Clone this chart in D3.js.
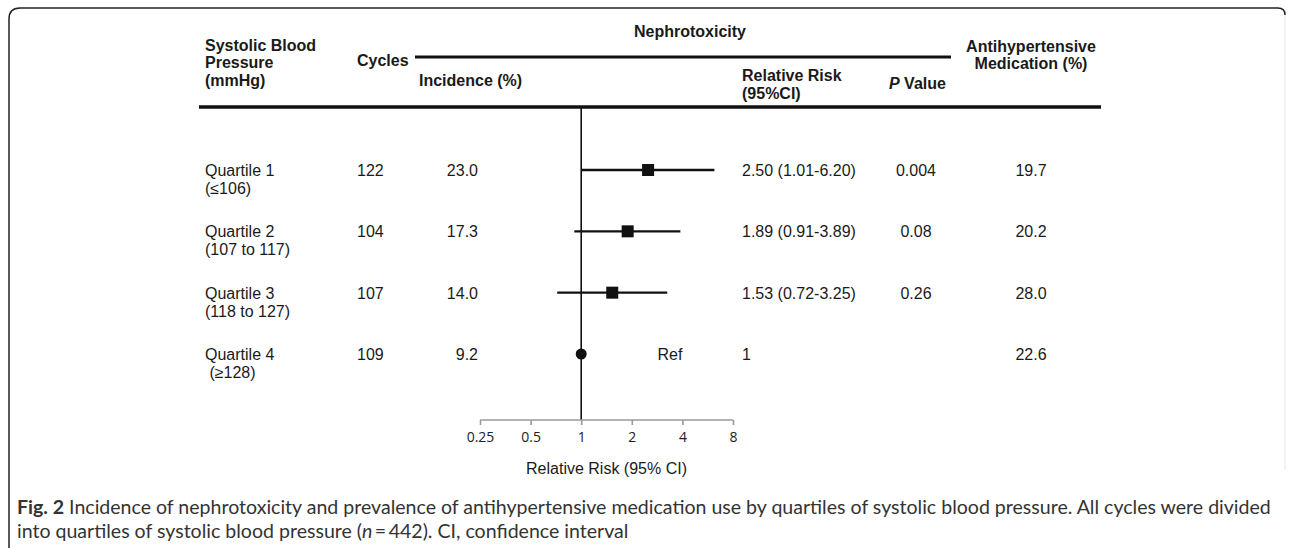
<!DOCTYPE html>
<html>
<head>
<meta charset="utf-8">
<script src="https://cdn.jsdelivr.net/npm/d3@7"></script>
<style>
  body { margin: 0; background: #fff; }
  text { font-family: "Liberation Sans", Arial, sans-serif; fill: #1a1a1a; }
  .hdr { font-weight: bold; font-size: 16px; }
  .cell { font-size: 16px; }
  .axis text { font-family: "Open Sans", sans-serif; font-size: 14px; fill: #222; }
  .axis path, .axis line { stroke: #9a9a9a; stroke-width: 1.6; }
  .caption text { font-family: "Lato", sans-serif; font-size: 19px; fill: #333; }
</style>
</head>
<body>
<div id="chart"></div>
<script>
// ---- data ----
const quartiles = ["Quartile 1", "Quartile 2", "Quartile 3", "Quartile 4"];
const ranges = ["(\u2264106)", "(107 to 117)", "(118 to 127)", " (\u2265128)"];
const cycles = [122, 104, 107, 109];
const incidence = ["23.0", "17.3", "14.0", "9.2"];
const rr = [2.50, 1.89, 1.53, 1];
const ciLow = [1.01, 0.91, 0.72, null];
const ciHigh = [6.20, 3.89, 3.25, null];
const rrText = ["2.50 (1.01-6.20)", "1.89 (0.91-3.89)", "1.53 (0.72-3.25)", "1"];
const pValues = ["0.004", "0.08", "0.26", ""];
const medication = ["19.7", "20.2", "28.0", "22.6"];
const xTicks = [0.25, 0.5, 1, 2, 4, 8];

const W = 1292, H = 548;
const svg = d3.select("#chart").append("svg")
    .attr("width", W).attr("height", H);

// frame with rounded corners
svg.append("path")
    .attr("d", "M9,548 L9,19 Q9,8 20,8 L1278,8 Q1285,8 1285,15")
    .attr("fill", "none").attr("stroke", "#222").attr("stroke-width", 1.5);
svg.append("line")
    .attr("x1", 1285).attr("x2", 1285).attr("y1", 15).attr("y2", 470)
    .attr("stroke", "#e6e6e6").attr("stroke-width", 1);

// header
const hdr = svg.append("g");
function htext(x, y, s, anchor) {
    return hdr.append("text").attr("class", "hdr")
        .attr("x", x).attr("y", y)
        .attr("text-anchor", anchor || "start").text(s);
}
htext(690, 37, "Nephrotoxicity", "middle");
htext(205, 51, "Systolic Blood");
htext(205, 68, "Pressure");
htext(205, 86, "(mmHg)");
htext(357, 66, "Cycles");
htext(1031, 52, "Antihypertensive", "middle");
htext(1031, 69, "Medication (%)", "middle");
htext(419, 86, "Incidence (%)");
htext(742, 81, "Relative Risk");
htext(742, 99, "(95%CI)");
const pv = htext(889, 89, "");
pv.append("tspan").attr("font-style", "italic").text("P");
pv.append("tspan").text(" Value");

hdr.append("line").attr("x1", 415).attr("x2", 951).attr("y1", 57).attr("y2", 57)
    .attr("stroke", "#111").attr("stroke-width", 3);
hdr.append("line").attr("x1", 199).attr("x2", 1101).attr("y1", 107).attr("y2", 107)
    .attr("stroke", "#111").attr("stroke-width", 3.5);

// scales
const x = d3.scaleLog().base(2).domain([0.25, 8]).range([480, 733]);
const y = d3.scalePoint().domain(quartiles).range([170, 354]);

// table cells
const rows = svg.append("g").selectAll("g.row")
    .data(quartiles.map((q, i) => ({ q, i })))
    .join("g").attr("class", "row");

rows.append("text").attr("class", "cell")
    .attr("x", 205).attr("y", d => y(d.q) + 6).text(d => d.q);
rows.append("text").attr("class", "cell").attr("xml:space", "preserve")
    .style("white-space", "pre")
    .attr("x", 205).attr("y", d => y(d.q) + 24).text(d => ranges[d.i]);
rows.append("text").attr("class", "cell")
    .attr("x", 357).attr("y", d => y(d.q) + 6).text(d => cycles[d.i]);
rows.append("text").attr("class", "cell").attr("text-anchor", "end")
    .attr("x", 478).attr("y", d => y(d.q) + 6).text(d => incidence[d.i]);
rows.append("text").attr("class", "cell")
    .attr("x", 742).attr("y", d => y(d.q) + 6).text(d => rrText[d.i]);
rows.append("text").attr("class", "cell").attr("text-anchor", "middle")
    .attr("x", 916).attr("y", d => y(d.q) + 6).text(d => pValues[d.i]);
rows.append("text").attr("class", "cell").attr("text-anchor", "middle")
    .attr("x", 1031).attr("y", d => y(d.q) + 6).text(d => medication[d.i]);

// reference line at RR = 1
svg.append("line")
    .attr("x1", x(1)).attr("x2", x(1)).attr("y1", 107).attr("y2", 420)
    .attr("stroke", "#111").attr("stroke-width", 1.6);

// CI lines
const ciRows = quartiles.map((q, i) => ({ q, i })).filter(d => ciLow[d.i] != null);
svg.append("g").selectAll("line")
    .data(ciRows).join("line")
    .attr("x1", d => x(ciLow[d.i])).attr("x2", d => x(ciHigh[d.i]))
    .attr("y1", d => y(d.q)).attr("y2", d => y(d.q))
    .attr("stroke", "#111").attr("stroke-width", 2.4);

// squares
const sq = 12;
svg.append("g").selectAll("rect")
    .data(ciRows).join("rect")
    .attr("x", d => x(rr[d.i]) - sq / 2).attr("y", d => y(d.q) - sq / 2)
    .attr("width", sq).attr("height", sq).attr("fill", "#111");

// reference point
svg.append("circle")
    .attr("cx", x(rr[3])).attr("cy", y(quartiles[3])).attr("r", 5.5).attr("fill", "#111");
svg.append("text").attr("class", "cell").attr("text-anchor", "middle")
    .attr("x", 670).attr("y", y(quartiles[3]) + 6).text("Ref");

// axis
const axis = svg.append("g").attr("class", "axis")
    .attr("transform", "translate(0,420)")
    .call(d3.axisBottom(x).tickValues(xTicks).tickFormat(d => String(d))
        .tickSize(5).tickSizeOuter(0).tickPadding(7));
axis.select(".domain").attr("d", `M${x(0.25)},0H${x(8)}`);
svg.append("text").attr("class", "cell").attr("text-anchor", "middle")
    .attr("x", (x(0.25) + x(8)) / 2).attr("y", 474).text("Relative Risk (95% CI)");

// caption
const cap = svg.append("g").attr("class", "caption");
const l1 = cap.append("text").attr("x", 0).attr("y", 0);
l1.append("tspan").attr("font-weight", "bold").text("Fig. 2");
l1.append("tspan").text(" Incidence of nephrotoxicity and prevalence of antihypertensive medication use by quartiles of systolic blood pressure. All cycles were divided");
const l2 = cap.append("text").attr("x", 0).attr("y", 24);
l2.append("tspan").text("into quartiles of systolic blood pressure (");
l2.append("tspan").attr("font-style", "italic").text("n");
l2.append("tspan").text("\u2009=\u2009442). CI, confidence interval");
const sx = 1255 / l1.node().getComputedTextLength();
cap.attr("transform", `translate(17,514) scale(${sx},1)`);
</script>
</body>
</html>
